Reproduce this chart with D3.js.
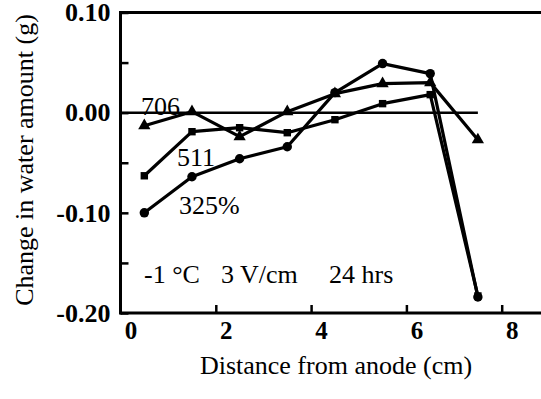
<!DOCTYPE html>
<html>
<head>
<meta charset="utf-8">
<script src="https://cdn.jsdelivr.net/npm/d3@7"></script>
<style>
  html, body { margin: 0; padding: 0; background: #fff; }
  svg { display: block; }
  text { font-family: "Liberation Serif", "Times New Roman", serif; fill: #000; }
</style>
</head>
<body>
<svg id="chart" width="541" height="399"></svg>
<script>
// ---- data ----
const distances = [0.5, 1.5, 2.5, 3.5, 4.5, 5.5, 6.5, 7.5];
const series325 = [-0.100, -0.064, -0.046, -0.034, 0.020, 0.049, 0.039, -0.184];
const series511 = [-0.063, -0.019, -0.015, -0.020, -0.007, 0.009, 0.018, -0.183];
const series706 = [-0.013, 0.001, -0.024, 0.001, 0.019, 0.029, 0.030, -0.027];
const seriesNames = ["325%", "511", "706"];
const zeroLineX = [0, 7.5];
const xTickValues = [0, 2, 4, 6, 8];
const xTickLabels = ["0", "2", "4", "6", "8"];
const yTickValues = [-0.20, -0.15, -0.10, -0.05, 0.00, 0.05, 0.10];
const yTickLabels = ["-0.20", "", "-0.10", "", "0.00", "", "0.10"];
const xTitle = "Distance from anode (cm)";
const yTitle = "Change in water amount (g)";
const conditions = ["-1 °C", "3 V/cm", "24 hrs"];

// ---- layout ----
const svg = d3.select("#chart");
const W = 541;
const x = d3.scaleLinear().domain([0, 8]).range([120.5, 501.7]);
const y = d3.scaleLinear().domain([-0.2, 0.1]).range([313, 12.5]);

// axes
const yAxis = d3.axisLeft(y)
  .tickValues(yTickValues)
  .tickSize(-8)
  .tickPadding(10)
  .tickFormat((d, i) => yTickLabels[i]);
const gy = svg.append("g").attr("transform", `translate(${x(0)},0)`).call(yAxis);
gy.select(".domain").remove();
gy.selectAll(".tick line").attr("stroke", "#000").attr("stroke-width", 2.5);
gy.selectAll(".tick text")
  .style("font-size", "26px").style("font-weight", "bold")
  .style("font-family", "'Liberation Serif', 'Times New Roman', serif")
  .attr("fill", "#000");

const xAxis = d3.axisBottom(x)
  .tickValues(xTickValues)
  .tickSize(-8)
  .tickPadding(8)
  .tickFormat((d, i) => xTickLabels[i]);
const gx = svg.append("g").attr("transform", `translate(0,${y(-0.2)})`).call(xAxis);
gx.select(".domain").remove();
gx.selectAll(".tick line").attr("stroke", "#000").attr("stroke-width", 2.5)
  .filter(d => d === 0).remove();
gx.selectAll(".tick text")
  .attr("dx", 10)
  .style("font-size", "25px").style("font-weight", "bold")
  .style("font-family", "'Liberation Serif', 'Times New Roman', serif")
  .attr("fill", "#000");

// frame lines: left axis, bottom axis, top line
svg.append("line").attr("x1", x(0)).attr("x2", x(0)).attr("y1", y(0.1) - 1.5).attr("y2", y(-0.2) + 1.5)
  .attr("stroke", "#000").attr("stroke-width", 3);
svg.append("line").attr("x1", x(0)).attr("x2", W).attr("y1", y(-0.2)).attr("y2", y(-0.2))
  .attr("stroke", "#000").attr("stroke-width", 3);
svg.append("line").attr("x1", x(0)).attr("x2", W).attr("y1", y(0.1)).attr("y2", y(0.1))
  .attr("stroke", "#000").attr("stroke-width", 3);

// zero reference line
svg.append("line")
  .attr("x1", x(zeroLineX[0])).attr("x2", x(zeroLineX[1]))
  .attr("y1", y(0)).attr("y2", y(0))
  .attr("stroke", "#000").attr("stroke-width", 2.5);

// series
const line = d3.line().x((d, i) => x(distances[i])).y(d => y(d));
const allSeries = [
  { name: seriesNames[0], values: series325, symbol: d3.symbolCircle, size: 70 },
  { name: seriesNames[1], values: series511, symbol: d3.symbolSquare, size: 55 },
  { name: seriesNames[2], values: series706, symbol: d3.symbolTriangle, size: 65 }
];
allSeries.forEach(s => {
  svg.append("path").datum(s.values).attr("d", line)
    .attr("fill", "none").attr("stroke", "#000").attr("stroke-width", 3.2)
    .attr("stroke-linejoin", "round");
  svg.append("g").selectAll("path").data(s.values).join("path")
    .attr("transform", (d, i) => `translate(${x(distances[i])},${y(d)})`)
    .attr("d", d3.symbol().type(s.symbol).size(s.size))
    .attr("fill", "#000");
});

// series labels
const fs = "26px";
svg.append("text").attr("x", 141).attr("y", 115).style("font-size", fs).text(seriesNames[2]);
svg.append("text").attr("x", 177).attr("y", 166).style("font-size", fs).text(seriesNames[1]);
svg.append("text").attr("x", 179).attr("y", 214).style("font-size", fs).text(seriesNames[0]);

// conditions
svg.append("text").attr("x", 144).attr("y", 283).style("font-size", fs).text(conditions[0]);
svg.append("text").attr("x", 221).attr("y", 283).style("font-size", fs).text(conditions[1]);
svg.append("text").attr("x", 329).attr("y", 283).style("font-size", fs).text(conditions[2]);

// titles
svg.append("text").attr("x", 336).attr("y", 374).attr("text-anchor", "middle")
  .style("font-size", fs).text(xTitle);
svg.append("text").attr("transform", `translate(33,160) rotate(-90)`).attr("text-anchor", "middle")
  .style("font-size", fs).text(yTitle);
</script>
</body>
</html>
